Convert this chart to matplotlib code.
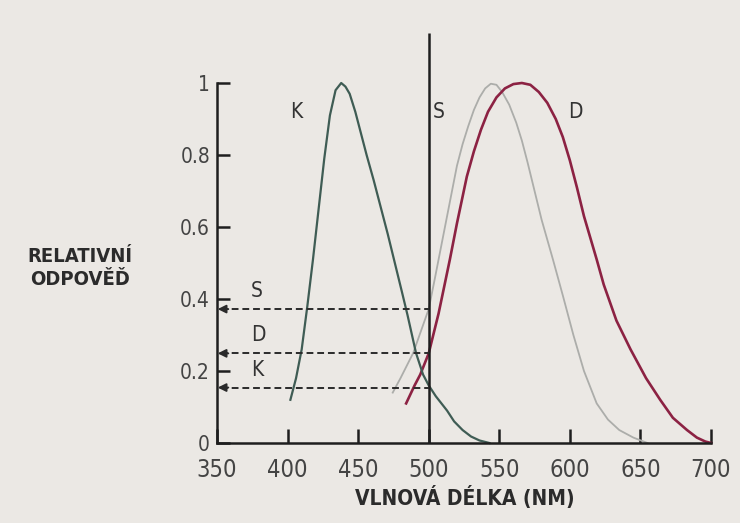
import matplotlib
matplotlib.use("Agg")
import matplotlib.pyplot as plt

plt.rcParams['font.family'] = ['DejaVu Sans']
plt.rcParams['font.stretch'] = 'condensed'

# K curve (short wavelength)
k_wl = [402, 406, 410, 414, 418, 422, 426, 430, 434, 438, 441, 444, 448, 452, 456, 461, 466,
        471, 476, 481, 485, 491, 496, 500, 505, 509, 513, 518, 524, 530, 536, 543]
k_val = [0.12, 0.18, 0.26, 0.38, 0.51, 0.65, 0.79, 0.91, 0.98, 1.0, 0.99, 0.97, 0.92, 0.86, 0.80, 0.73, 0.655,
         0.58, 0.50, 0.42, 0.355, 0.25, 0.19, 0.16, 0.13, 0.11, 0.09, 0.06, 0.036, 0.018, 0.007, 0.0]

# S curve (medium wavelength)
s_wl = [474.5, 480, 489, 500, 504, 508, 512, 516, 520, 524, 528, 532, 536, 540, 544, 548, 552,
        557, 562, 566, 570, 575, 580, 588, 595, 602.5, 610, 619, 627, 635, 645, 655]
s_val = [0.14, 0.18, 0.25, 0.372, 0.45, 0.53, 0.61, 0.69, 0.77, 0.83, 0.88, 0.925, 0.96, 0.985, 0.998, 0.995, 0.975,
         0.94, 0.89, 0.84, 0.78, 0.70, 0.62, 0.51, 0.41, 0.30, 0.20, 0.11, 0.065, 0.036, 0.015, 0.0]

# D curve (long wavelength)
d_wl = [484, 490, 494, 500, 507, 515, 520, 527, 532, 537, 542, 548, 554, 560, 566, 572, 578,
        584, 590, 595, 600, 605, 610, 619, 624, 633, 643, 654, 664, 673, 683, 690, 696, 700]
d_val = [0.11, 0.16, 0.19, 0.249, 0.36, 0.51, 0.61, 0.74, 0.81, 0.87, 0.92, 0.96, 0.985, 0.997, 1.0, 0.995, 0.975,
         0.945, 0.90, 0.85, 0.785, 0.71, 0.63, 0.51, 0.44, 0.34, 0.26, 0.18, 0.12, 0.07, 0.036, 0.015, 0.004, 0.0]

stim_wl = 500
stim_top = 1.14
resp_names = ['S', 'D', 'K']
resp_vals = [0.372, 0.249, 0.154]

bg = '#ebe8e4'
fig = plt.figure(figsize=(7.4, 5.23), dpi=100, facecolor=bg)
ax = fig.add_axes([217 / 740, 80 / 523, 494 / 740, 432 / 523])
ax.set_facecolor(bg)

ax.plot(s_wl, s_val, color='#acadaa', lw=1.3, clip_on=False)
ax.plot(d_wl, d_val, color='#8c2243', lw=1.9, clip_on=False)
ax.plot(k_wl, k_val, color='#3f5c54', lw=1.6, clip_on=False)

ax.vlines(stim_wl, 0, stim_top, color='#1e1e1e', lw=1.8, clip_on=False)

for name, v in zip(resp_names, resp_vals):
    ax.plot([353, stim_wl], [v, v], color='#2a2a2a', lw=1.4, dashes=(3.5, 2))
    ax.annotate('', xy=(350.5, v), xytext=(358, v),
                arrowprops=dict(arrowstyle='-|>', color='#2a2a2a', lw=1.4,
                                mutation_scale=12, shrinkA=0, shrinkB=0))
    ax.text(374, v + 0.05, name, fontsize=15, color='#333333', ha='left', va='center')

ax.text(402, 0.92, 'K', fontsize=15, color='#333333', ha='left', va='center')
ax.text(503, 0.92, 'S', fontsize=15, color='#333333', ha='left', va='center')
ax.text(599, 0.92, 'D', fontsize=15, color='#333333', ha='left', va='center')

ax.set_xlim(350, 700)
ax.set_ylim(0, 1.2)
for side in ['top', 'right']:
    ax.spines[side].set_visible(False)
ax.spines['left'].set_bounds(0, 1)
ax.spines['bottom'].set_bounds(350, 700)
for side in ['left', 'bottom']:
    ax.spines[side].set_linewidth(1.8)
    ax.spines[side].set_color('#1e1e1e')

ax.set_xticks([350, 400, 450, 500, 550, 600, 650, 700])
ax.set_xticklabels(['350', '400', '450', '500', '550', '600', '650', '700'])
ax.set_yticks([0, 0.2, 0.4, 0.6, 0.8, 1])
ax.set_yticklabels(['0', '0.2', '0.4', '0.6', '0.8', '1'])
ax.tick_params(axis='x', direction='in', length=10, width=1.8, color='#1e1e1e',
               labelsize=17, labelcolor='#444444', pad=11)
ax.tick_params(axis='y', direction='in', length=9, width=1.8, color='#1e1e1e',
               labelsize=15, labelcolor='#444444', pad=5)

fig.text(465 / 740, 1 - 498 / 523, 'VLNOVÁ DÉLKA (NM)', fontsize=15, fontweight='bold',
         color='#2b2b2b', ha='center', va='center')
fig.text(80 / 740, 1 - 268 / 523, 'RELATIVNÍ\nODPOVĚĎ', fontsize=14.5, fontweight='bold',
         color='#2b2b2b', ha='center', va='center', linespacing=1.3)

fig.savefig('out.png', dpi=100, facecolor=bg)
